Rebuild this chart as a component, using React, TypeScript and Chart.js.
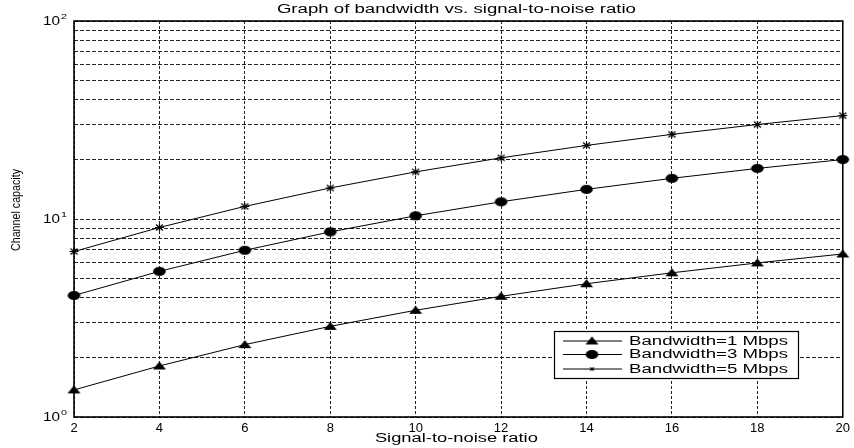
import React, { useEffect, useRef } from "react";
import { Chart, registerables } from "chart.js";

Chart.register(...registerables);

const snrValues = [2, 4, 6, 8, 10, 12, 14, 16, 18, 20];
const bw1Values = [1.37, 1.81, 2.32, 2.87, 3.46, 4.07, 4.71, 5.35, 6.0, 6.66];
const bw3Values = [4.11, 5.44, 6.95, 8.61, 10.38, 12.22, 14.12, 16.05, 18.01, 19.97];
const bw5Values = [6.85, 9.06, 11.58, 14.35, 17.3, 20.37, 23.53, 26.76, 30.01, 33.29];
const seriesLabels = ["Bandwidth=1 Mbps", "Bandwidth=3 Mbps", "Bandwidth=5 Mbps"];
const seriesMarkers = ["triangle", "ellipse", "asterisk"];
const yTickValues = [1, 2, 3, 4, 5, 6, 7, 8, 9, 10, 20, 30, 40, 50, 60, 70, 80, 90, 100];
const yLabelValues = [1, 10, 100];
const yLabelExponents = ["0", "1", "2"];
const titleText = "Graph of bandwidth vs. signal-to-noise ratio";
const xTitleText = "Signal-to-noise ratio";
const yTitleText = "Channel capacity";

const FONT = "'Liberation Sans', Arial, sans-serif";

function makeMarker(kind: string): HTMLCanvasElement {
  const c = document.createElement("canvas");
  const w = 15, h = 11;
  c.width = w; c.height = h;
  const g = c.getContext("2d")!;
  g.fillStyle = "#000";
  g.strokeStyle = "#000";
  const cx = w / 2, cy = h / 2;
  if (kind === "triangle") {
    g.beginPath();
    g.moveTo(cx, cy - 4.5);
    g.lineTo(cx + 6.5, cy + 3.5);
    g.lineTo(cx - 6.5, cy + 3.5);
    g.closePath();
    g.fill();
  } else if (kind === "ellipse") {
    g.beginPath();
    g.ellipse(cx, cy, 6.3, 4.5, 0, 0, Math.PI * 2);
    g.fill();
  } else {
    g.lineWidth = 1.2;
    g.beginPath();
    g.moveTo(cx - 4.5, cy); g.lineTo(cx + 4.5, cy);
    g.moveTo(cx, cy - 3.5); g.lineTo(cx, cy + 3.5);
    g.moveTo(cx - 3.5, cy - 3); g.lineTo(cx + 3.5, cy + 3);
    g.moveTo(cx - 3.5, cy + 3); g.lineTo(cx + 3.5, cy - 3);
    g.stroke();
  }
  return c;
}

// draws text stretched horizontally so that it spans targetW pixels
function drawStretched(ctx: CanvasRenderingContext2D, text: string, x: number, y: number, targetW: number, align: "left" | "center" | "right") {
  ctx.save();
  (ctx as any).letterSpacing = "0px";
  const w = ctx.measureText(text).width;
  const sx = targetW / w;
  ctx.translate(x, y);
  ctx.scale(sx, 1);
  ctx.textAlign = "left";
  const ox = align === "center" ? -w / 2 : align === "right" ? -w : 0;
  ctx.fillText(text, ox, 0);
  ctx.restore();
}

const framePlugin = {
  id: "frameAndText",
  beforeDraw(chart: any) {
    const ctx = chart.ctx;
    ctx.save();
    ctx.fillStyle = "#fff";
    ctx.fillRect(0, 0, chart.width, chart.height);
    ctx.restore();
  },
  beforeDatasetsDraw(chart: any) {
    const { ctx, chartArea: a } = chart;
    ctx.save();
    ctx.strokeStyle = "#000";
    ctx.lineWidth = 1.6;
    ctx.strokeRect(a.left, a.top, a.right - a.left, a.bottom - a.top);
    ctx.restore();
  },
  afterDraw(chart: any) {
    const { ctx, chartArea: a } = chart;
    const yScale = chart.scales.y;
    ctx.save();
    ctx.fillStyle = "#000";
    ctx.textBaseline = "middle";

    // y tick labels: "10" with superscript exponent, right-aligned near the axis
    yLabelValues.forEach((v, i) => {
      const py = yScale.getPixelForValue(v);
      const right = a.left - 7;
      ctx.font = `8px ${FONT}`;
      drawStretched(ctx, yLabelExponents[i], right, py - 4, 6, "right");
      ctx.font = `12px ${FONT}`;
      drawStretched(ctx, "10", right - 7, py + 1, 17, "right");
    });

    ctx.font = `12px ${FONT}`;
    drawStretched(ctx, titleText, (a.left + a.right) / 2 - 2, 10, 359, "center");
    drawStretched(ctx, xTitleText, (a.left + a.right) / 2 - 2, 439, 163, "center");
    // y title, condensed along text direction (glyphs stretched)
    ctx.save();
    ctx.translate(16, 210);
    ctx.rotate(-Math.PI / 2);
    ctx.font = `10px ${FONT}`;
    const tw = ctx.measureText(yTitleText).width;
    ctx.scale(82 / tw, 1.35);
    ctx.textAlign = "center";
    ctx.fillText(yTitleText, 0, 0);
    ctx.restore();

    // legend
    const bx = 554, by = 331, bw = 244, bh = 47;
    ctx.fillStyle = "#fff";
    ctx.fillRect(bx, by, bw, bh);
    ctx.strokeStyle = "#000";
    ctx.lineWidth = 1.2;
    ctx.strokeRect(bx + 0.5, by + 0.5, bw, bh);
    const rows = [341, 354.5, 369];
    chart.data.datasets.forEach((ds: any, i: number) => {
      const y = rows[i];
      ctx.strokeStyle = "#000";
      ctx.fillStyle = "#000";
      ctx.lineWidth = 1;
      ctx.beginPath();
      ctx.moveTo(563, y);
      ctx.lineTo(622, y);
      ctx.stroke();
      const m = ds.pointStyle as HTMLCanvasElement;
      const s = i === 2 ? 0.6 : 1;
      ctx.drawImage(m, 592 - (m.width * s) / 2, y - (m.height * s) / 2, m.width * s, m.height * s);
      ctx.fillStyle = "#000";
      ctx.font = `12px ${FONT}`;
      drawStretched(ctx, ds.label, 629, y + 0.5, 159, "left");
    });
    ctx.restore();
  },
};

export default function App() {
  const ref = useRef<HTMLCanvasElement>(null);
  useEffect(() => {
    if (!ref.current) return;
    const makeDs = (label: string, data: number[], marker: string) => ({
      label,
      data: snrValues.map((x, i) => ({ x, y: data[i] })),
      borderColor: "#000",
      backgroundColor: "#000",
      borderWidth: 1,
      pointStyle: makeMarker(marker),
      pointRadius: 6,
      clip: false as any,
      tension: 0,
    });
    const chart = new Chart(ref.current, {
      type: "line",
      data: {
        datasets: [
          makeDs(seriesLabels[0], bw1Values, seriesMarkers[0]),
          makeDs(seriesLabels[1], bw3Values, seriesMarkers[1]),
          makeDs(seriesLabels[2], bw5Values, seriesMarkers[2]),
        ],
      },
      options: {
        animation: false,
        responsive: true,
        maintainAspectRatio: false,
        layout: { padding: { left: 0, right: 8, top: 21, bottom: 0 } },
        plugins: { legend: { display: false }, title: { display: false }, tooltip: { enabled: false } },
        scales: {
          x: {
            type: "linear",
            min: 2,
            max: 20,
            afterFit: (s: any) => { s.height = 31; },
            ticks: {
              stepSize: 2,
              color: "#000",
              padding: 4,
              maxRotation: 0,
              font: { family: FONT, size: 13 },
            },
            grid: { color: "#222", lineWidth: 1, drawTicks: false },
            border: { display: false, dash: [3, 2] },
          },
          y: {
            type: "logarithmic",
            min: 1,
            max: 100,
            afterFit: (s: any) => { s.width = 74; },
            afterBuildTicks: (s: any) => {
              s.ticks = yTickValues.map((v) => ({ value: v, major: false }));
            },
            ticks: { display: false, autoSkip: false },
            grid: { color: "#222", lineWidth: 1, drawTicks: false },
            border: { display: false, dash: [4, 2] },
          },
        },
      },
      plugins: [framePlugin],
    } as any);
    return () => chart.destroy();
  }, []);
  return (
    <div style={{ position: "absolute", left: 0, top: 0, width: 854, height: 448, background: "#fff" }}>
      <canvas ref={ref} />
    </div>
  );
}
